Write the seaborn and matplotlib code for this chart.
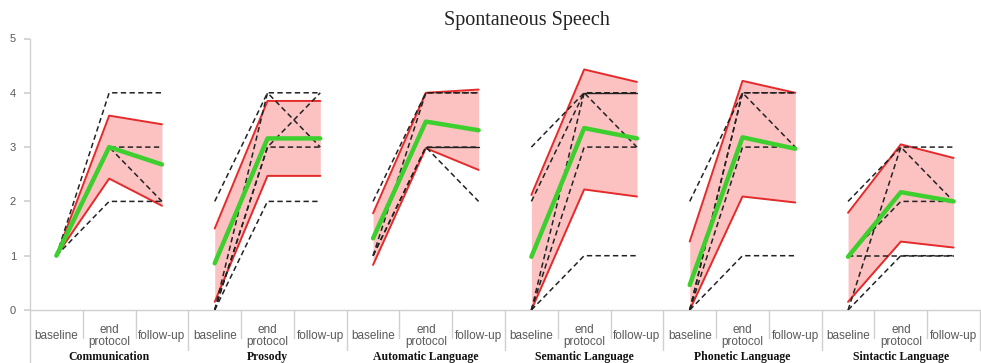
import matplotlib
matplotlib.use("Agg")
import matplotlib.pyplot as plt
import numpy as np
import pandas as pd
import seaborn as sns

phases = ["baseline", "end\nprotocol", "follow-up"]
domains = ["Communication", "Prosody", "Automatic Language",
           "Semantic Language", "Phonetic Language", "Sintactic Language"]

# mean and mean +/- SD per domain (baseline, end protocol, follow-up)
mean_score = [[1.00, 3.00, 2.68], [0.86, 3.16, 3.16], [1.32, 3.47, 3.31],
              [0.98, 3.35, 3.16], [0.46, 3.18, 2.97], [0.98, 2.17, 2.00]]
sd_upper = [[1.00, 3.58, 3.42], [1.50, 3.85, 3.85], [1.78, 4.00, 4.06],
            [2.12, 4.43, 4.20], [1.26, 4.22, 4.00], [1.79, 3.05, 2.80]]
sd_lower = [[1.00, 2.42, 1.92], [0.15, 2.47, 2.47], [0.83, 2.98, 2.58],
            [0.00, 2.22, 2.09], [0.00, 2.09, 1.98], [0.15, 1.26, 1.15]]

# single subjects (dashed)
subjects = [
    [[1, 4, 4], [1, 3, 3], [1, 3, 2], [1, 2, 2]],
    [[2, 4, 4], [0, 4, 3], [0, 3, 4], [0, 3, 3], [0, 2, 2]],
    [[2, 4, 4], [1, 4, 4], [1, 3, 2], [1, 3, 3]],
    [[3, 4, 4], [2, 4, 3], [0, 4, 4], [0, 3, 3], [0, 1, 1]],
    [[2, 4, 4], [0, 4, 3], [0, 4, 4], [0, 3, 3], [0, 1, 1]],
    [[2, 3, 3], [0, 3, 2], [1, 2, 2], [1, 1, 1], [0, 1, 1]],
]
# end protocol -> follow-up segments drawn solid
solid_segments = [[], [], [[3, 3]], [[4, 4]], [], []]

red = "#e42a2a"
pink = "#fcc2c2"
green = "#3ccf2e"
grey_txt = "#595959"
grey_line = "#d0d0d0"

rows = []
for g, dom in enumerate(domains):
    for k in range(3):
        rows.append(dict(domain=dom, pos=3 * g + k, mean=mean_score[g][k],
                         upper=sd_upper[g][k], lower=sd_lower[g][k]))
summary = pd.DataFrame(rows)

srows = []
for g, dom in enumerate(domains):
    for s, vals in enumerate(subjects[g]):
        for k in range(3):
            srows.append(dict(uid=f"{g}-{s}", pos=3 * g + k, score=vals[k]))
subj = pd.DataFrame(srows)

segrows = []
for g, dom in enumerate(domains):
    for s, vals in enumerate(solid_segments[g]):
        for k in range(2):
            segrows.append(dict(uid=f"{g}-{s}", pos=3 * g + 1 + k, score=vals[k]))
segs = pd.DataFrame(segrows)

sns.set_theme(style="white")
plt.rcParams["font.family"] = ["Liberation Sans", "DejaVu Sans"]

fig = plt.figure(figsize=(9.81, 3.63), dpi=100)
ax = fig.add_axes([30 / 981, 53 / 363, 950 / 981, 271.5 / 363])

for dom, sub in summary.groupby("domain", sort=False):
    ax.fill_between(sub["pos"], sub["lower"], sub["upper"], color=pink, lw=0, zorder=1)

sns.lineplot(data=summary, x="pos", y="upper", units="domain", estimator=None,
             color=red, lw=1.4, ax=ax, zorder=3)
sns.lineplot(data=summary, x="pos", y="lower", units="domain", estimator=None,
             color=red, lw=1.4, ax=ax, zorder=3)
sns.lineplot(data=subj, x="pos", y="score", units="uid", estimator=None,
             color="#222222", lw=1.1, linestyle=(0, (3.5, 2.2)), ax=ax, zorder=4)
sns.lineplot(data=segs, x="pos", y="score", units="uid", estimator=None,
             color="#222222", lw=1.0, ax=ax, zorder=4)
sns.lineplot(data=summary, x="pos", y="mean", units="domain", estimator=None,
             color=green, lw=3.2, ax=ax, zorder=5)

ax.set_xlim(-0.5, 17.5)
ax.set_ylim(0, 5)
ax.set_xlabel("")
ax.set_ylabel("")
sns.despine(ax=ax)
for sp in ["left", "bottom"]:
    ax.spines[sp].set_color(grey_line)
    ax.spines[sp].set_linewidth(1.0)

ax.set_yticks(range(6))
ax.tick_params(axis="y", length=4, color=grey_line, labelcolor=grey_txt,
               labelsize=8, pad=6, direction="out", left=True)
ax.set_xticks(range(18), labels=phases * 6)
ax.tick_params(axis="x", length=0, labelcolor=grey_txt, labelsize=8.5, pad=19)
for lbl in ax.get_xticklabels():
    lbl.set_verticalalignment("center")
    lbl.set_linespacing(1.0)

trans = ax.get_xaxis_transform()
for b in np.arange(-0.5, 18, 1.0):
    if b < 0:
        depth = -0.2
    elif (b + 0.5) % 3 == 0:
        depth = -0.147
    else:
        depth = -0.103
    ax.plot([b, b], [0, depth], transform=trans, clip_on=False,
            color=grey_line, lw=1.0)

for g, dom in enumerate(domains):
    ax.text(3 * g + 1, -0.173, dom, transform=trans, ha="center", va="center",
            family="Liberation Serif", fontweight="bold", fontsize=8.5, color="#111111")

fig.text(527 / 981, 1 - 20 / 363, "Spontaneous Speech", ha="center", va="center",
         family="Liberation Serif", fontsize=14.5, color="#222222")

fig.savefig("out.png", dpi=100)
